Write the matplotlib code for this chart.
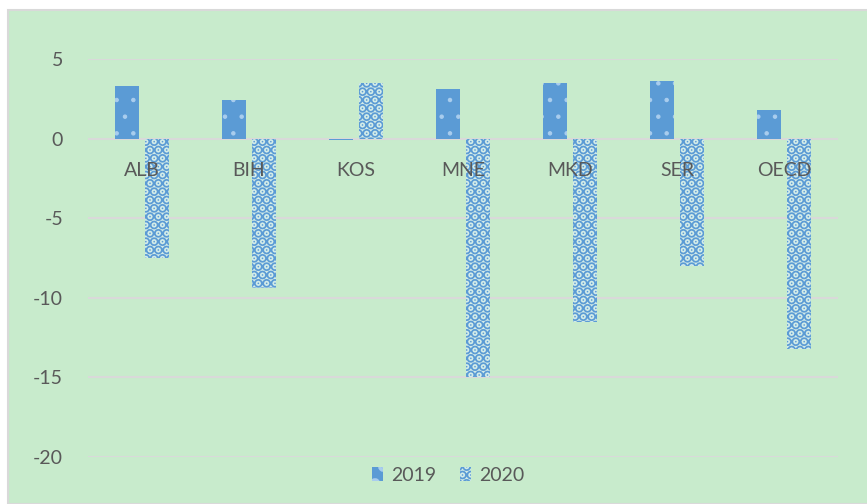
import matplotlib
matplotlib.use("Agg")
import matplotlib.pyplot as plt
from matplotlib.patches import Rectangle
import numpy as np

categories = ["ALB", "BIH", "KOS", "MNE", "MKD", "SER", "OECD"]
v2019 = [3.3, 2.4, -0.1, 3.1, 3.5, 3.6, 1.8]
v2020 = [-7.5, -9.4, 3.5, -15.0, -11.5, -8.0, -13.2]
yticks = [5, 0, -5, -10, -15, -20]

plt.rcParams['font.family'] = ['Lato', 'DejaVu Sans']
plt.rcParams['axes.unicode_minus'] = False

W, H = 867, 504
fig = plt.figure(figsize=(W/100, H/100), dpi=100, facecolor='white')
bg = '#C8EBCC'
fig.add_artist(Rectangle((8/W, 0), 1, 1 - 10/H, transform=fig.transFigure,
                         facecolor=bg, edgecolor='#D9D9D9', linewidth=1.5, zorder=-10))

ax = fig.add_axes([88/W, 1 - 457/H, (838-88)/W, (457-59)/H])
ax.set_zorder(1)
ax.set_facecolor('none')
x = np.arange(len(categories))
bw = 0.225
off = 0.14
plt.rcParams['hatch.linewidth'] = 0.8
b1 = ax.bar(x - off, v2019, bw, color='#5B9BD5', edgecolor='#A9CDEE', hatch='.', linewidth=0, zorder=3, label='2019')
plt.rcParams['hatch.linewidth'] = 5.0
b2 = ax.bar(x + off, v2020, bw, color='#D4ECE8', edgecolor='#5B9BD5', hatch='..', linewidth=0, zorder=3, label='2020')

ax.set_xlim(-0.5, len(categories) - 0.5)
ax.set_ylim(-20, 5)
ax.set_yticks(yticks)
ax.yaxis.grid(True, color='#D9D9D9', linewidth=1.5, zorder=0)
ax.set_axisbelow(True)
for s in ax.spines.values():
    s.set_visible(False)
ax.spines['bottom'].set_position(('data', 0))
ax.xaxis.set_zorder(5)
ax.set_xticks(x)
ax.set_xticklabels(categories)
ax.tick_params(axis='x', length=0, pad=17, labelsize=14, labelcolor='#595959')
ax.tick_params(axis='y', length=0, pad=18, labelsize=14, labelcolor='#595959')

leg = ax.legend(loc='upper center', bbox_to_anchor=(0.48, 0.02), ncol=2, frameon=False,
                fontsize=14, handlelength=0.6, handleheight=0.8, handletextpad=0.4,
                columnspacing=1.2, labelcolor='#595959')

fig.savefig('out.png', dpi=100, facecolor='white')
